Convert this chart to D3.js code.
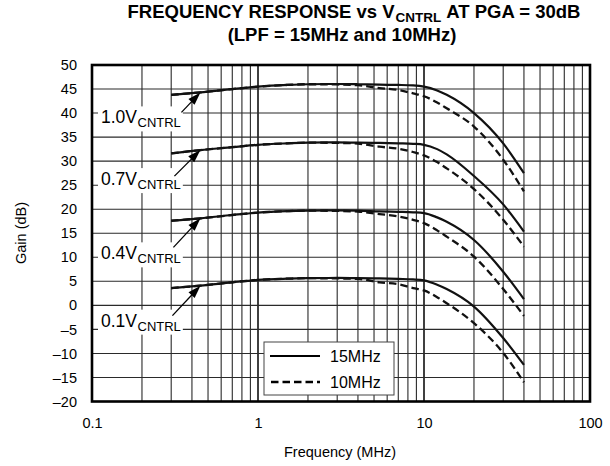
<!DOCTYPE html>
<html><head><meta charset="utf-8">
<script src="https://cdn.jsdelivr.net/npm/d3@7"></script>
<style>
body{margin:0;background:#fff}
svg{font-family:"Liberation Sans",Arial,Helvetica,sans-serif}
</style>
</head><body>
<svg id="c" width="610" height="466"></svg>
<script>
// ---- data ----
const freqs = [0.3, 0.45, 0.7, 1, 1.5, 2, 3, 4, 5.4, 7, 8.6, 10, 12, 13.7, 20, 30, 40];
const s10 = [43.8, 44.3, 45.0, 45.5, 45.85, 46.0, 46.05, 46.0, 45.9, 45.85, 45.75, 45.5, 44.7, 43.8, 40.0, 33.7, 27.5];
const d10 = [43.8, 44.3, 45.0, 45.5, 45.85, 46.0, 45.95, 45.8, 45.2, 44.8, 44.1, 43.5, 42.2, 41.0, 37.2, 30.3, 23.7];
const s07 = [31.6, 32.3, 32.9, 33.4, 33.7, 33.85, 33.9, 33.85, 33.8, 33.7, 33.6, 33.4, 32.5, 31.4, 26.9, 21.0, 15.35];
const d07 = [31.6, 32.3, 32.9, 33.4, 33.7, 33.85, 33.8, 33.65, 33.0, 32.6, 31.9, 31.2, 29.8, 28.5, 24.2, 17.8, 12.2];
const s04 = [17.6, 18.1, 18.8, 19.3, 19.6, 19.7, 19.75, 19.7, 19.55, 19.45, 19.35, 19.2, 18.3, 17.4, 13.6, 7.0, 1.3];
const d04 = [17.6, 18.1, 18.8, 19.3, 19.6, 19.7, 19.65, 19.5, 19.0, 18.5, 17.8, 17.1, 15.6, 14.3, 10.15, 3.4, -2.2];
const s01 = [3.6, 4.1, 4.8, 5.3, 5.55, 5.65, 5.7, 5.65, 5.6, 5.5, 5.4, 5.2, 4.3, 3.4, -0.25, -6.8, -12.4];
const d01 = [3.6, 4.1, 4.8, 5.3, 5.55, 5.65, 5.6, 5.5, 4.8, 4.4, 3.6, 3.1, 1.7, 0.45, -3.7, -9.9, -16.0];
const seriesNames = ["1.0", "0.7", "0.4", "0.1"];
const legendLabels = ["15MHz", "10MHz"];
const xTicks = [0.1, 1, 10, 100];
const xTickLabels = ["0.1", "1", "10", "100"];
const yTicks = [50, 45, 40, 35, 30, 25, 20, 15, 10, 5, 0, -5, -10, -15, -20];
const arrowFreq = 0.45;

// ---- layout ----
const L = 92, R = 590, T = 65, B = 401.5;
const svg = d3.select("#c");
const x = d3.scaleLog().domain([0.1, 100]).range([L, R]);
const y = d3.scaleLinear().domain([-20, 50]).range([B, T]);

// grid
const g = svg.append("g");
const vlines = [];
for (let e = -1; e <= 1; e++) for (let k = 1; k <= 9; k++) vlines.push(k * Math.pow(10, e));
vlines.push(100);
const isDec = d => Math.abs(Math.log10(d) - Math.round(Math.log10(d))) < 1e-9;
g.selectAll("line.v").data(vlines).enter().append("line")
  .attr("x1", d => x(d)).attr("x2", d => x(d)).attr("y1", T).attr("y2", B)
  .attr("stroke", d => isDec(d) ? "#000" : "#2a2a2a")
  .attr("stroke-width", d => isDec(d) ? 1.5 : 1.1);
g.selectAll("line.h").data(yTicks).enter().append("line")
  .attr("x1", L).attr("x2", R).attr("y1", d => y(d)).attr("y2", d => y(d))
  .attr("stroke", "#2a2a2a").attr("stroke-width", 1.1);

// curve labels with white background
const lab = svg.append("g");
const solids = [s10, s07, s04, s01], dashes = [d10, d07, d04, d01];
const labelOffsets = [31, 35, 41, 41];
const ai = freqs.indexOf(arrowFreq);
seriesNames.forEach((name, i) => {
  const tipY = y(solids[i][ai]);
  const baseY = tipY + labelOffsets[i];
  const t1 = lab.append("text").attr("x", 101).attr("y", baseY).attr("font-size", 17.5).attr("fill", "#000").text(name + "V");
  const w = t1.node().getComputedTextLength();
  const t2 = lab.append("text").attr("x", 101 + w + 0.5).attr("y", baseY + 4).attr("font-size", 13).attr("fill", "#000").text("CNTRL");
  const b1 = t1.node().getBBox(), b2 = t2.node().getBBox();
  const x0 = b1.x - 3, y0 = b1.y - 1, x1 = b2.x + b2.width + 2, y1 = b2.y + b2.height + 1;
  lab.insert("rect", "text").attr("x", x0).attr("y", y0).attr("width", x1 - x0).attr("height", y1 - y0).attr("fill", "#fff");
});

// series lines
const line = d3.line().x((d, i) => x(freqs[i])).y(d => y(d)).curve(d3.curveMonotoneX);
dashes.forEach(v => svg.append("path").attr("d", line(v)).attr("fill", "none").attr("stroke", "#111").attr("stroke-width", 2.3).attr("stroke-dasharray", "7.5,4"));
solids.forEach(v => svg.append("path").attr("d", line(v)).attr("fill", "none").attr("stroke", "#111").attr("stroke-width", 2.2));

// arrows
const arrowStarts = [[-19, 20], [-26, 26], [-27, 29], [-28, 30]];
seriesNames.forEach((name, i) => {
  const tipX = x(arrowFreq), tipY = y(solids[i][ai]);
  const sx = tipX + arrowStarts[i][0], sy = tipY + arrowStarts[i][1];
  const dx = tipX - sx, dy = tipY - sy, len = Math.hypot(dx, dy);
  const ux = dx / len, uy = dy / len;
  const hl = 13, hw = 4.2;
  const bx = tipX - ux * hl, by = tipY - uy * hl;
  svg.append("line").attr("x1", sx).attr("y1", sy).attr("x2", bx + ux * 2).attr("y2", by + uy * 2)
    .attr("stroke", "#000").attr("stroke-width", 1.3);
  svg.append("path").attr("d", `M${tipX},${tipY} L${bx - uy * hw},${by + ux * hw} L${bx + uy * hw},${by - ux * hw} Z`).attr("fill", "#000");
});

// legend
const lg = svg.append("g");
lg.append("rect").attr("x", 264).attr("y", 342).attr("width", 130).attr("height", 53).attr("fill", "#fff").attr("stroke", "#444").attr("stroke-width", 1);
lg.append("line").attr("x1", 270).attr("x2", 320).attr("y1", 356).attr("y2", 356).attr("stroke", "#000").attr("stroke-width", 2.2);
lg.append("line").attr("x1", 271).attr("x2", 320).attr("y1", 382).attr("y2", 382).attr("stroke", "#000").attr("stroke-width", 2.3).attr("stroke-dasharray", "7.5,4");
lg.append("text").attr("x", 330).attr("y", 362).attr("font-size", 16).text(legendLabels[0]);
lg.append("text").attr("x", 330).attr("y", 388).attr("font-size", 16).text(legendLabels[1]);

// frame
svg.append("rect").attr("x", L).attr("y", T).attr("width", R - L).attr("height", B - T).attr("fill", "none").attr("stroke", "#000").attr("stroke-width", 2.6);

// axes
const ya = svg.append("g").attr("transform", `translate(${L},0)`)
  .call(d3.axisLeft(y).tickValues(yTicks).tickSize(0).tickPadding(15).tickFormat(d => d < 0 ? "\u2013" + Math.abs(d) : String(d)));
ya.select(".domain").remove();
ya.selectAll("text").attr("font-size", 14.5).attr("font-family", "Liberation Sans, Arial, sans-serif").attr("fill", "#000");
const xa = svg.append("g").attr("transform", `translate(0,${B})`)
  .call(d3.axisBottom(x).tickValues(xTicks).tickSize(0).tickPadding(16).tickFormat((d, i) => xTickLabels[i]));
xa.select(".domain").remove();
xa.selectAll("text").attr("font-size", 14.5).attr("font-family", "Liberation Sans, Arial, sans-serif").attr("fill", "#000");

svg.append("text").attr("x", 340).attr("y", 457).attr("text-anchor", "middle").attr("font-size", 14.5).text("Frequency (MHz)");
svg.append("text").attr("transform", "translate(26,233) rotate(-90)").attr("text-anchor", "middle").attr("font-size", 14.5).text("Gain (dB)");

// title: line 1 built from pieces, centred
const tfs = 18.5, tsub = 13.5;
const tg = svg.append("g");
const pa = tg.append("text").attr("y", 18).attr("font-size", tfs).attr("font-weight", "bold").text("FREQUENCY RESPONSE vs V");
const pb = tg.append("text").attr("y", 21.5).attr("font-size", tsub).attr("font-weight", "bold").text("CNTRL");
const pc = tg.append("text").attr("y", 18).attr("font-size", tfs).attr("font-weight", "bold").text("AT PGA = 30dB");
const wa = pa.node().getComputedTextLength(), wb = pb.node().getComputedTextLength(), wc = pc.node().getComputedTextLength();
const gap = 5;
const total = wa + 1 + wb + gap + wc;
const start = 354 - total / 2;
pa.attr("x", start);
pb.attr("x", start + wa + 1);
pc.attr("x", start + wa + 1 + wb + gap);
svg.append("text").attr("x", 342).attr("y", 41).attr("text-anchor", "middle").attr("font-size", tfs).attr("font-weight", "bold").text("(LPF = 15MHz and 10MHz)");
</script>
</body></html>
